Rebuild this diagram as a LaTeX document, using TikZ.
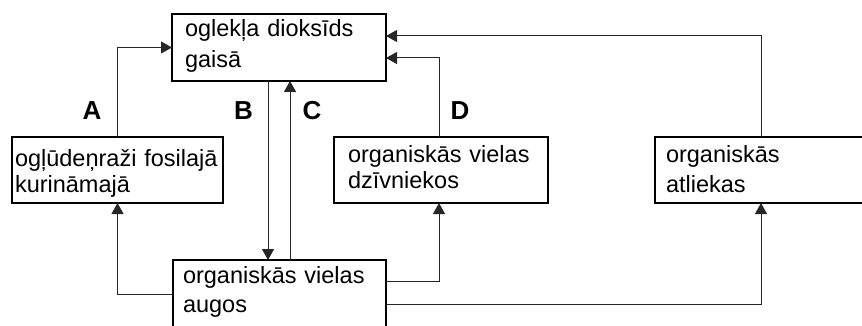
\documentclass[tikz,border=0pt]{standalone}
\usepackage{fontspec}
\setmainfont{Liberation Sans}
\usetikzlibrary{arrows.meta,calc}
\begin{document}
\begin{tikzpicture}[x=1pt,y=-1pt,
  box/.style={draw=black, line width=2.2pt, anchor=north west, align=left, inner ysep=0pt, outer sep=0pt},
  conn/.style={draw=black!85, line width=1pt, -{Triangle[length=11pt,width=12pt]}},
  lbl/.style={anchor=base, font=\fontsize{26}{30}\selectfont\bfseries, inner sep=0pt}]
\useasboundingbox (0,0) rectangle (862,326);
\node[box, minimum width=214pt, minimum height=67pt, text width=188pt, inner xsep=13pt,
      text height=23pt, text depth=44pt, font=\fontsize{23.5}{31}\selectfont] (co2) at (172,14)
      {\mbox{oglekļa dioksīds}\\gaisā};
\node[box, minimum width=211pt, minimum height=66pt, text width=205pt, inner xsep=3pt,
      text height=30pt, text depth=36pt, font=\fontsize{23.5}{25}\selectfont] (fossil) at (12,137)
      {\mbox{ogļūdeņraži fosilajā}\\kurināmajā};
\node[box, minimum width=214pt, minimum height=66pt, text width=186pt, inner xsep=14pt,
      text height=25pt, text depth=41pt, font=\fontsize{23.5}{26}\selectfont] (animals) at (334,137)
      {\mbox{organiskās vielas}\\dzīvniekos};
\node[box, minimum width=212pt, minimum height=66pt, text width=190pt, inner xsep=11pt,
      text height=26pt, text depth=40pt, font=\fontsize{23.5}{29}\selectfont] (remains) at (655,137)
      {organiskās\\atliekas};
\node[box, minimum width=213pt, minimum height=68pt, text width=193pt, inner xsep=10pt,
      text height=23pt, text depth=45pt, font=\fontsize{23.5}{29}\selectfont] (plants) at (173,260)
      {\mbox{organiskās vielas}\\augos};
\node[lbl] (la) at (92,120) {A};
\node[lbl] (lb) at (243.5,119.5) {B};
\node[lbl] (lc) at (312,119.5) {C};
\node[lbl] (ld) at (460,120) {D};
\draw[conn] (fossil.north) |- (co2.west);
\draw[conn] ([xshift=-11pt]co2.south) -- ([xshift=-11pt]co2.south |- plants.north);
\draw[conn] ([xshift=11pt]co2.south |- plants.north) -- ([xshift=11pt]co2.south);
\draw[conn] ([xshift=-2pt]animals.north) |- ([yshift=-10.5pt]co2.east);
\draw[conn] (remains.north) |- ([yshift=11.5pt]co2.east);
\draw[conn] (plants.west) -| (fossil.south);
\draw[conn] ([yshift=13pt]plants.east) -| ([xshift=-2pt]animals.south);
\draw[conn] ([yshift=-10pt]plants.east) -| (remains.south);
\end{tikzpicture}
\end{document}
